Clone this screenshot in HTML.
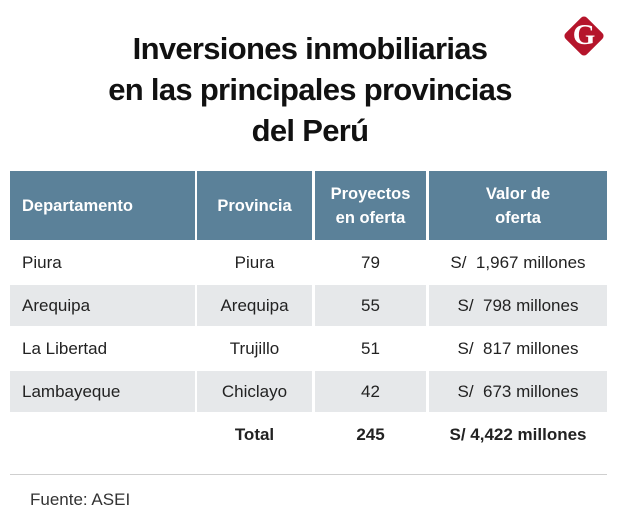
<!DOCTYPE html>
<html><head><meta charset="utf-8"><style>
body{margin:0;width:620px;height:527px;background:#fff;font-family:"Liberation Sans",sans-serif;position:relative;overflow:hidden;color:#222}
.title{position:absolute;left:0;width:620px;top:28px;text-align:center;font-weight:bold;font-size:31px;line-height:41px;letter-spacing:-0.7px;color:#111}
.logo{position:absolute;left:569px;top:21px;width:30px;height:30px;background:#b5152b;transform:rotate(45deg);border-radius:4px}
.logoG{position:absolute;left:566px;top:19px;width:36px;text-align:center;font:bold 29px "Liberation Serif",serif;color:#fff}
.c{position:absolute;box-sizing:border-box;display:flex;align-items:center;font-size:17px;color:#222}
.h{background:#5b8199;color:#fff;font-weight:bold;font-size:16.5px;line-height:24px;text-align:center;justify-content:center}
.g{background:#e6e8ea}
.l{padding-left:12px}
.m{justify-content:center}
.b{font-weight:bold}
.rule{position:absolute;left:10px;width:597px;top:474px;height:1px;background:#cfcfcf}
.src{position:absolute;left:30px;top:490px;font-size:17px;color:#333}
</style></head><body>
<div class="title">Inversiones inmobiliarias<br>en las principales provincias<br>del Perú</div>
<div class="logo"></div>
<div class="logoG">G</div>

<div class="c h" style="left:10px;top:171px;width:185px;height:69px;justify-content:flex-start;padding-left:12px">Departamento</div>
<div class="c h" style="left:197px;top:171px;width:115px;height:69px">Provincia</div>
<div class="c h" style="left:315px;top:171px;width:111px;height:69px">Proyectos<br>en oferta</div>
<div class="c h" style="left:429px;top:171px;width:178px;height:69px">Valor de<br>oferta</div>

<div class="c l" style="left:10px;top:242px;width:185px;height:41px">Piura</div>
<div class="c m" style="left:197px;top:242px;width:115px;height:41px">Piura</div>
<div class="c m" style="left:315px;top:242px;width:111px;height:41px">79</div>
<div class="c m" style="left:429px;top:242px;width:178px;height:41px">S/&nbsp; 1,967 millones</div>

<div class="c l g" style="left:10px;top:285px;width:185px;height:41px">Arequipa</div>
<div class="c m g" style="left:197px;top:285px;width:115px;height:41px">Arequipa</div>
<div class="c m g" style="left:315px;top:285px;width:111px;height:41px">55</div>
<div class="c m g" style="left:429px;top:285px;width:178px;height:41px">S/&nbsp; 798 millones</div>

<div class="c l" style="left:10px;top:328px;width:185px;height:41px">La Libertad</div>
<div class="c m" style="left:197px;top:328px;width:115px;height:41px">Trujillo</div>
<div class="c m" style="left:315px;top:328px;width:111px;height:41px">51</div>
<div class="c m" style="left:429px;top:328px;width:178px;height:41px">S/&nbsp; 817 millones</div>

<div class="c l g" style="left:10px;top:371px;width:185px;height:41px">Lambayeque</div>
<div class="c m g" style="left:197px;top:371px;width:115px;height:41px">Chiclayo</div>
<div class="c m g" style="left:315px;top:371px;width:111px;height:41px">42</div>
<div class="c m g" style="left:429px;top:371px;width:178px;height:41px">S/&nbsp; 673 millones</div>

<div class="c m b" style="left:197px;top:414px;width:115px;height:41px">Total</div>
<div class="c m b" style="left:315px;top:414px;width:111px;height:41px">245</div>
<div class="c m b" style="left:429px;top:414px;width:178px;height:41px">S/ 4,422 millones</div>

<div class="rule"></div>
<div class="src">Fuente: ASEI</div>
</body></html>
